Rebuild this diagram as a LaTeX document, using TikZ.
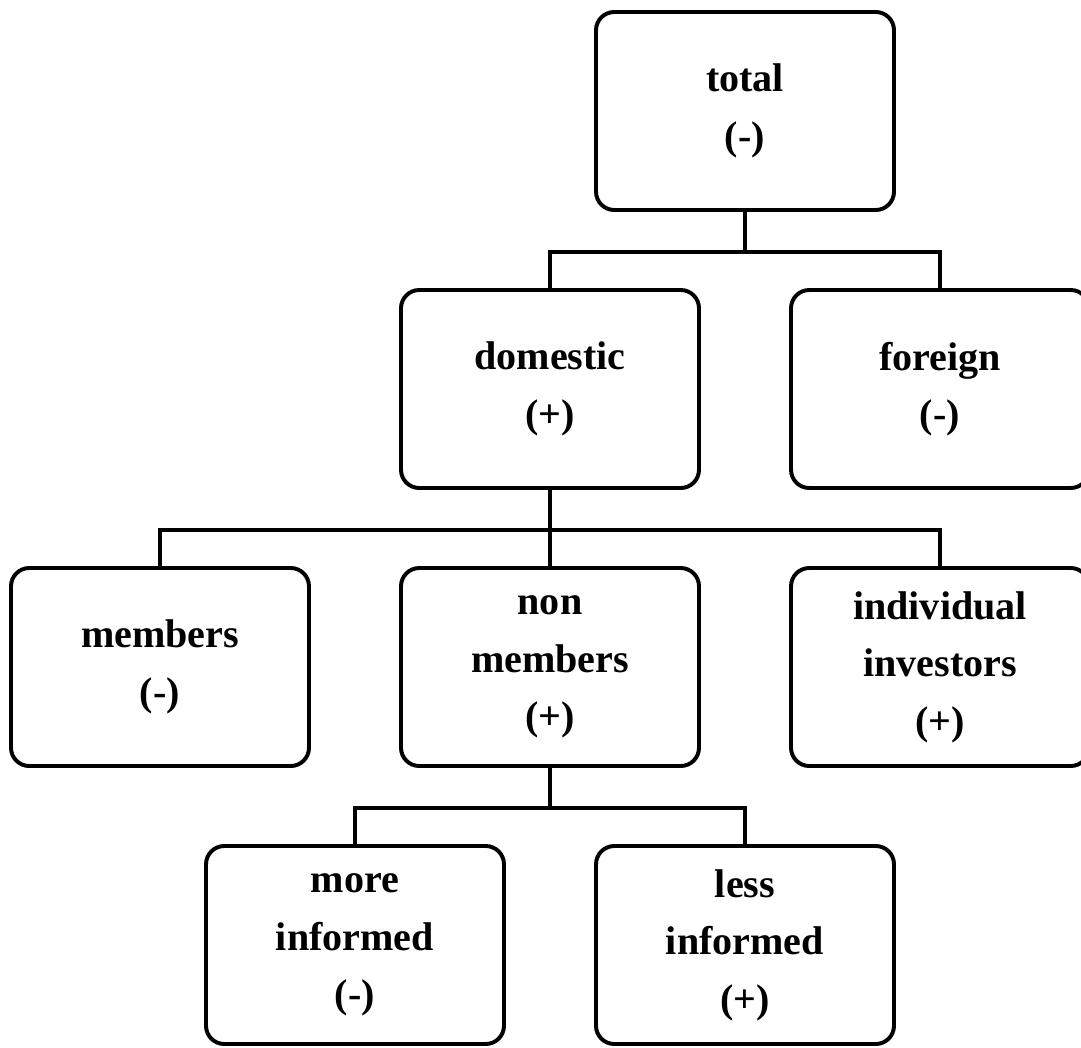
\documentclass[tikz,border=0pt]{standalone}
\usepackage{fontspec}
\setmainfont{Liberation Serif}
\usepackage{tikz}
\usetikzlibrary{positioning}

\begin{document}
\begin{tikzpicture}[
    line width=2.8pt,node distance=6.95cm and 4.875cm,on grid,
  box/.style={draw,rounded corners=13pt,minimum width=7.45cm,minimum height=4.95cm,
    align=center,font=\fontsize{28.5pt}{41pt}\selectfont\bfseries},
]
  \clip (-18.625,2.775) rectangle (8.4,-23.4);

  \node[box] (total) {total\\(-)};
  \node[box] (domestic) [below left=of total] {domestic\\(+)};
  \node[box] (foreign) [below right=of total] {foreign\\(-)};
  \node[box] (nonmembers) [below=of domestic] {non\\members\\(+)};
  \node[box] (members) [left=9.75cm of nonmembers] {members\\(-)};
  \node[box] (individual) [right=9.75cm of nonmembers] {individual\\investors\\(+)};
  \node[box] (moreinf) [below left=of nonmembers] {more\\informed\\(-)};
  \node[box] (lessinf) [below right=of nonmembers] {less\\informed\\(+)};

  \draw (total.south) -- ++(0,-1) -| (domestic.north);
  \draw (total.south) -- ++(0,-1) -| (foreign.north);

  \draw (domestic.south) -- ++(0,-1) -| (members.north);
  \draw (domestic.south) -- ++(0,-1) -| (nonmembers.north);
  \draw (domestic.south) -- ++(0,-1) -| (individual.north);

  \draw (nonmembers.south) -- ++(0,-1) -| (moreinf.north);
  \draw (nonmembers.south) -- ++(0,-1) -| (lessinf.north);
\end{tikzpicture}
\end{document}
